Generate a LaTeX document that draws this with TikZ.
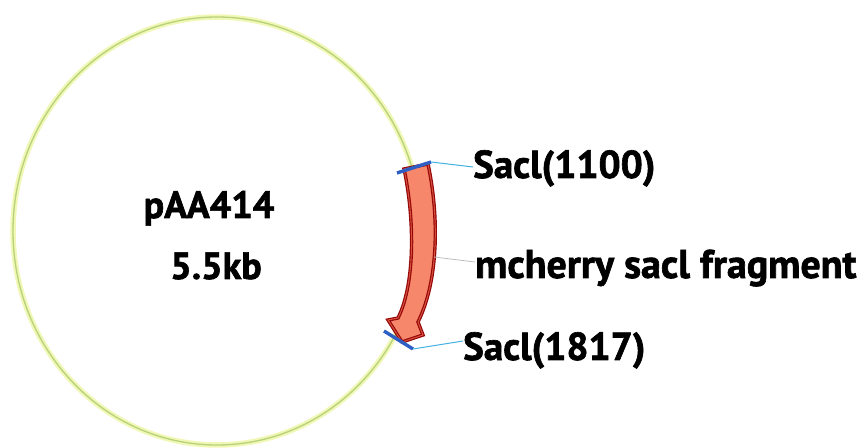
\documentclass[tikz,border=0pt]{standalone}
\usepackage{fontspec}
\setmainfont{PT Sans}
\newfontfamily\heavy[FakeBold=1.6]{PT Sans Bold}
\definecolor{ringout}{HTML}{F1F7B4}
\definecolor{ringin}{HTML}{B7D27C}
\definecolor{arrowfill}{HTML}{F7876A}
\definecolor{arrowline}{HTML}{940808}
\definecolor{arrowmid}{HTML}{D9503F}
\definecolor{cutblue}{HTML}{2E5FC4}
\definecolor{leadblue}{HTML}{43B0E2}
\definecolor{leadgray}{HTML}{BDBDBD}
\begin{document}
\begin{tikzpicture}[x=1bp,y=-1bp,
  lab/.style={font=\heavy\fontsize{39bp}{46bp}\selectfont, inner sep=0pt, anchor=base west},
  title/.style={font=\heavy\fontsize{38bp}{44bp}\selectfont, inner sep=0pt, anchor=base},
  cut/.style={draw=cutblue, line width=3.4bp},
  lead/.style={draw=leadblue, line width=1bp},
  leadg/.style={draw=leadgray, line width=0.8bp}]
\useasboundingbox (0,0) rectangle (863,448);
% plasmid ring
\draw[ringout, line width=5.5bp] (217,231) ellipse [x radius=204, y radius=214];
\draw[ringin, line width=1.3bp] (217,231) ellipse [x radius=204, y radius=214];
% fragment arrow
\filldraw[fill=arrowfill, draw=arrowline, line width=1.2bp, double=arrowmid, double distance=1bp, line join=miter]
  (404,169) .. controls (414,215) and (416,282) .. (398,318)
  -- (388,320) -- (402,342) -- (423,335) -- (418,322)
  .. controls (439,280) and (439,215) .. (428,164) -- cycle;
% cut sites
\coordinate (t1) at (397,173);
\coordinate (t2) at (431,162);
\coordinate (b1) at (384,331);
\coordinate (b2) at (413,349);
\coordinate (m1) at (434,257);
\draw[cut] (t1) -- (t2);
\draw[cut] (b1) -- (b2);
% labels
\node[title] (name) at (209,218) {pAA414};
\node[title] (size) at (216,279) {5.5kb};
\node[lab] (s1) at (473,178) {Sacl(1100)};
\node[lab, font=\heavy\fontsize{40bp}{47bp}\selectfont] (fr) at (475,278) {mcherry sacl fragment};
\node[lab] (s2) at (463,360) {Sacl(1817)};
% leaders
\draw[lead] (t2) -- (s1.west |- 0,167);
\draw[lead] (b2) -- (s2.west |- 0,341);
\draw[leadg] (m1) -- (fr.west |- 0,262);
\end{tikzpicture}
\end{document}
